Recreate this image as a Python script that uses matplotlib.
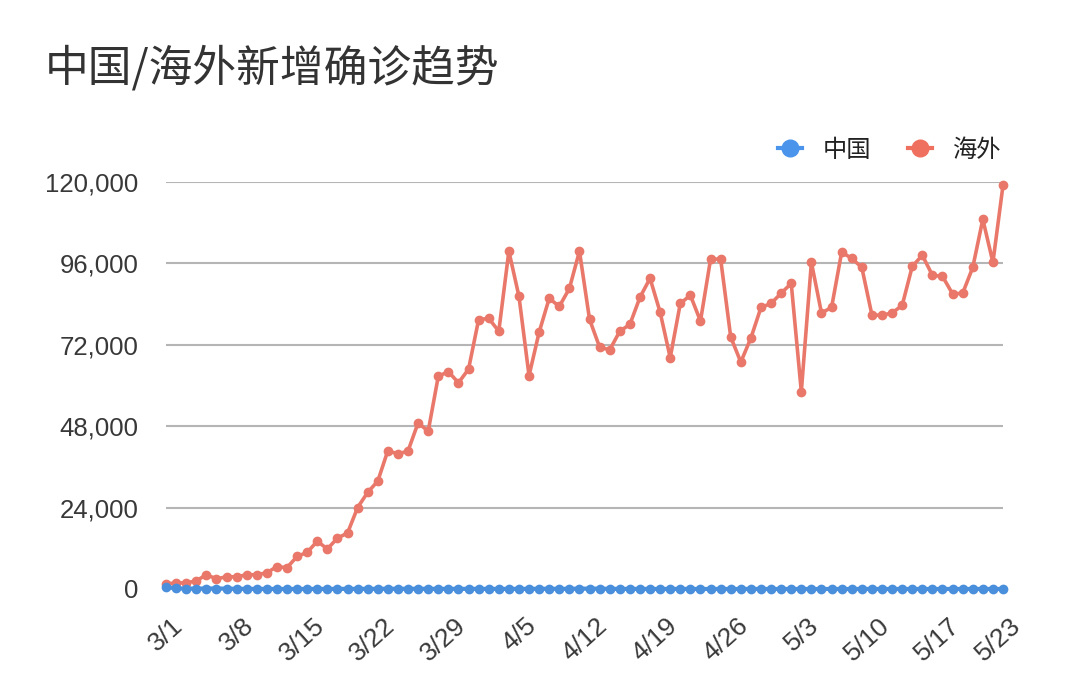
import matplotlib
matplotlib.use("Agg")
import matplotlib.pyplot as plt
from matplotlib.ticker import FuncFormatter
from matplotlib.lines import Line2D
import matplotlib.transforms as mtransforms

plt.rcParams['font.family'] = ['Liberation Sans', 'Noto Sans CJK SC', 'DejaVu Sans']

# ---- data (3/1 .. 5/23, daily) ----
dates = ['3/1', '3/2', '3/3', '3/4', '3/5', '3/6', '3/7', '3/8', '3/9', '3/10',
         '3/11', '3/12', '3/13', '3/14', '3/15', '3/16', '3/17', '3/18', '3/19', '3/20',
         '3/21', '3/22', '3/23', '3/24', '3/25', '3/26', '3/27', '3/28', '3/29', '3/30',
         '3/31', '4/1', '4/2', '4/3', '4/4', '4/5', '4/6', '4/7', '4/8', '4/9',
         '4/10', '4/11', '4/12', '4/13', '4/14', '4/15', '4/16', '4/17', '4/18', '4/19',
         '4/20', '4/21', '4/22', '4/23', '4/24', '4/25', '4/26', '4/27', '4/28', '4/29',
         '4/30', '5/1', '5/2', '5/3', '5/4', '5/5', '5/6', '5/7', '5/8', '5/9',
         '5/10', '5/11', '5/12', '5/13', '5/14', '5/15', '5/16', '5/17', '5/18', '5/19',
         '5/20', '5/21', '5/22', '5/23']

overseas = [1500, 1800, 1800, 2400, 4200, 3000, 3600, 3600, 4200, 4200,
            4800, 6600, 6300, 9600, 10800, 14100, 11800, 15000, 16500, 24000,
            28500, 31800, 40800, 39800, 40700, 49000, 46500, 62700, 64100, 60800,
            64800, 79400, 79800, 76000, 99600, 86300, 62900, 75700, 85700, 83300,
            88600, 99600, 79500, 71300, 70500, 76000, 78000, 86000, 91600, 81600,
            68200, 84200, 86600, 79000, 97200, 97300, 74300, 66900, 74000, 83000,
            84200, 87200, 90100, 58200, 96300, 81400, 83000, 99300, 97500, 94800,
            80800, 80700, 81400, 83600, 95100, 98400, 92500, 92200, 87000, 87200,
            94800, 109000, 96300, 119000]

china = [573, 202, 125, 119, 139, 143, 99, 44, 40, 19,
         24, 15, 8, 11, 20, 21, 13, 34, 39, 41,
         46, 39, 78, 47, 67, 55, 54, 45, 31, 48,
         36, 35, 31, 19, 30, 39, 32, 62, 63, 42,
         46, 99, 108, 89, 46, 26, 27, 16, 12, 12,
         11, 30, 11, 10, 6, 12, 3, 6, 22, 4,
         12, 2, 1, 3, 1, 2, 4, 2, 1, 14,
         17, 1, 7, 3, 4, 5, 7, 5, 7, 6,
         5, 4, 3, 2]

tick_labels = ['3/1', '3/8', '3/15', '3/22', '3/29', '4/5', '4/12', '4/19',
               '4/26', '5/3', '5/10', '5/17', '5/23']
y_ticks = [0, 24000, 48000, 72000, 96000, 120000]

series_names = ['中国', '海外']
title = '中国/海外新增确诊趋势'

# ---- figure ----
fig = plt.figure(figsize=(10.8, 6.8), dpi=100)
fig.patch.set_facecolor('white')
ax = fig.add_axes([166/1080, 1 - 589/680, (1003 - 166)/1080, (589 - 182)/680])

x = list(range(len(dates)))
red = '#e9786a'
blue = '#4a8fdc'

ax.plot(x, overseas, color=red, lw=2.6, marker='o', ms=6, mec=red, mfc=red,
        zorder=3, clip_on=False, solid_joinstyle='round')
ax.plot(x, china, color=blue, lw=3.0, marker='o', ms=6, mec=blue, mfc=blue,
        zorder=4, clip_on=False)

ax.set_xlim(0, len(dates) - 1)
ax.set_ylim(0, 120000)
ax.set_yticks(y_ticks)
ax.yaxis.set_major_formatter(FuncFormatter(lambda v, p: f'{int(v):,}'))
ax.grid(axis='y', color='#b5b5b5', lw=1.5)
ax.set_axisbelow(True)
for s in ax.spines.values():
    s.set_visible(False)

tick_pos = [dates.index(t) for t in tick_labels]
ax.set_xticks(tick_pos)
ax.set_xticklabels(tick_labels, rotation=42, ha='right', va='center',
                   rotation_mode='anchor')
ax.tick_params(axis='x', length=0, pad=24, labelsize=19, labelcolor='#3a3a3a')
ax.tick_params(axis='y', length=0, pad=20, labelsize=18.5, labelcolor='#383838')
offset = mtransforms.ScaledTranslation(14/100, 0, fig.dpi_scale_trans)
for lab in ax.get_xticklabels():
    lab.set_transform(lab.get_transform() + offset)

# title
fig.text(45/1080, 1 - 68/680, title, fontsize=31.5, color='#333333',
         family=['Noto Sans CJK SC', 'DejaVu Sans'], ha='left', va='center')

# legend
handles = [Line2D([0], [0], color='#4a94ec', lw=3, marker='o', ms=12),
           Line2D([0], [0], color='#f0705f', lw=3, marker='o', ms=12)]
leg = fig.legend(handles, series_names, loc='center right',
                 bbox_to_anchor=(1001/1080, 1 - 150/680), ncol=2, frameon=False,
                 handlelength=1.0, handletextpad=0.85, columnspacing=1.5,
                 borderaxespad=0, borderpad=0,
                 prop={'family': ['Noto Sans CJK SC', 'DejaVu Sans'], 'size': 17.5})
for t in leg.get_texts():
    t.set_color('#222222')

fig.savefig('out.png', dpi=100, facecolor='white')
